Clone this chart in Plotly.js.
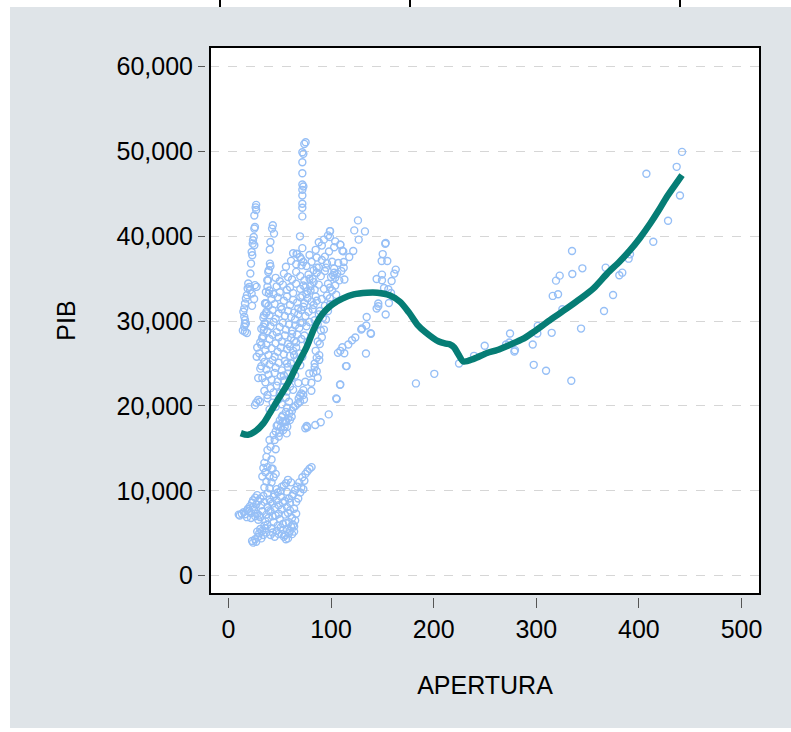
<!DOCTYPE html>
<html>
<head>
<meta charset="utf-8">
<script src="https://cdn.plot.ly/plotly-3.0.1.min.js"></script>
<style>
  html, body { margin:0; padding:0; background:#ffffff; width:791px; height:732px; overflow:hidden; }
  #chart { position:absolute; left:10px; top:7px; width:781px; height:721px; }
  .vbar { position:absolute; top:0; width:2px; height:7px; background:#000; }
</style>
</head>
<body>
<div class="vbar" style="left:219px"></div>
<div class="vbar" style="left:409px"></div>
<div class="vbar" style="left:679px"></div>
<div id="chart"></div>
<script>
// ---- Data (APERTURA, PIB) ----
const bottomCluster = [
  [10,7200],[11,7100],[13,7300],[15,7500],[16,7250],[18,7700],[19,7900],[20,7600],[21,8200],[22,7400],
  [23,8600],[24,8900],[25,7800],[26,9200],[27,8400],[28,9500],[29,8800],[30,7100],[31,9100],[32,8300],
  [33,7600],[34,9400],[35,8700],[18,6900],[22,6800],[26,7000],[29,6600],[24,8100],[28,7300],[31,6900],
  [23,4100],[24,3900],[26,4300],[27,4000],[29,4600],[30,5000],[32,4400],[33,5300],[34,4800],[36,5600],
  [37,5100],[38,6000],[35,5900],[31,5500],[28,5200],
  [36,6400],[37,7200],[38,8100],[39,6800],[40,9000],[41,7600],[42,5600],[43,8500],[44,6300],[45,9600],
  [46,7100],[47,10200],[48,5900],[49,8300],[50,6700],[51,9300],[52,7800],[53,5400],[54,10600],[55,8800],
  [56,6200],[57,9900],[58,7400],[59,5000],[60,8600],[61,11000],[62,6800],[38,9700],[40,10300],[42,11000],
  [44,11600],[46,12000],[41,4800],[43,5100],[45,4600],[47,5300],[49,4900],[51,5700],[53,6100],[55,4800],
  [57,5500],[59,6300],[61,5800],[63,6000],[64,5200],[65,6500],[39,7700],[41,8700],[43,7000],[45,8000],
  [47,8900],[49,7300],[51,10000],[53,8600],[55,7200],[57,8100],[59,9100],[44,9300],[48,9800],[52,10500],
  [56,10900],[58,11300],[60,7700],[62,9400],[35,10400],[37,11100],[40,11700],[36,12200],[38,12800],[42,12600],
  [63,9600],[65,10100],[67,10500],[68,9100],[69,11000],[71,10400],[72,11600],[74,11200],[75,12000],[77,12300],
  [79,12600],[81,12800],[66,8700],[70,9800],[73,10200],[64,7900],[66,7300],[62,4900],[60,5300],[64,5800],
  [58,4400],[56,4300],[54,4600],[52,4900]
];
const transitionCluster = [
  [33,11700],[34,12700],[35,13300],[37,14000],[38,14800],[40,16000],[41,15200],[42,13700],[44,16600],[45,16000],
  [46,17000],[48,17800],[50,18300],[51,17500],[52,18700],[53,18900],[55,18200],[56,19300],[57,19800],
  [46,14900],[49,16400],[43,12600],[49.5,16850],[47,17640],[52.8,18150],[61.6,18740],
  [57.3,17560],[72.9,21290],[69.7,20500],[76.2,17640],[25.8,20100],[27,20400],[29,20700],[30.7,20500],[31,24400],
  [27.5,25800],[32,27200],[29,23300],[28,26900]
];
const diagonalBand = [
  [88.5,25990],[88.5,25430],[86,25670],[84,25000],[84,24570],[86,24100],[87,23330],[82.7,23910],[78.8,23830],[74.9,22850],
  [80.8,22740],[80.8,21800],[73,21870],[71,21480],[69.7,21200],[68.4,20890],[73.6,20770],[67.7,20300],[65.1,19990],[63.2,19840],
  [61.9,19450],[59.3,19130],[58,18540],[56.1,18150],[54.8,17560],[53.4,17170],[59.9,18340],[56.7,16770],[76.8,17490],[74.9,17370],
  [84.6,17760],[89.9,18080],[97.7,19010],[105.5,20810],[109,22540],[115.2,24700],
  [89,27300],[91,28100],[93,29000],[95,30200],[97,31200],[99,32000],[85,26500],[87,27600]
];
const mainCloud = [
  [40,19600],[43,20400],[46,19900],[49,20800],[52,20200],[56,21000],[59,20500],[38,20900],
  [35,21800],[38,21300],[41,22100],[44,21600],[47,22400],[50,21500],[53,22200],[57,21700],[60,22300],[63,21900],
  [33,23300],[36,22800],[39,23700],[42,23100],[45,23900],[48,22900],[51,23500],[54,23000],[58,23800],[61,23200],[65,23600],[68,22700],
  [32,24700],[35,25200],[37,24300],[40,24900],[43,25400],[46,24500],[49,25100],[52,24200],[55,25300],[58,24600],[61,25000],[64,24400],[67,25400],[70,24800],
  [30,26200],[33,25700],[36,26600],[39,26000],[42,26800],[45,25800],[48,26400],[51,26900],[54,26100],[57,26700],[60,25900],[63,26500],[66,26900],[69,26200],[72,25800],
  [31,27500],[34,28200],[37,27200],[40,27900],[43,28400],[46,27400],[49,28100],[52,27600],[55,28300],[58,27300],[61,28000],[64,27700],[67,28400],[71,27900],[74,28300],[77,27500],
  [32,29100],[35,29700],[38,28800],[41,29400],[44,29900],[47,28700],[50,29300],[53,29800],[56,29000],[59,29600],[62,28900],[65,29500],[69,29200],[72,29800],[76,29400],[79,29900],
  [34,30400],[37,31100],[40,30700],[43,31300],[46,30300],[49,30900],[52,31400],[55,30600],[58,31200],[61,30500],[64,31000],[68,30800],[71,31300],[75,30600],[78,31100],[82,31400],
  [36,32100],[39,31800],[42,32600],[45,32000],[48,32800],[51,31700],[54,32400],[57,32900],[60,31900],[63,32500],[67,32200],[70,32800],[74,32100],[77,32700],[81,32300],[85,32900],
  [40,33600],[44,33200],[47,34100],[50,33400],[53,34300],[57,33700],[60,34000],[63,33300],[66,34400],[70,33800],[73,34200],[77,33500],[80,34100],[84,33700],[88,34300],
  [46,35100],[50,34700],[54,35600],[58,35200],[62,34900],[66,35800],[70,35300],[74,34800],[78,35500],[82,35000],[86,35700],[90,35300],[94,35900],
  [56,36400],[61,37100],[66,36700],[71,37300],[76,36500],[81,37000],[86,36300],[91,37200],[96,36800],
  [63,38000],[67,37900],[72,38600],[79,37800],[85,38400],[91,38900],[94,37600],[98,38200],[103,38700],
  [88,39300],[93,39600],[97,40100],[99,40600],[104,39400],[109,39000],[111,38300],
  [60,27000],[62,28500],[65,30200],[68,31500],[72,33000],[75,34000],[79,35000],[83,36000],[86,37500],[70,29800],
  [73,31700],[76,33200],[80,33600],[83,34600],[88,36300],[66,27500],[64,26000],[57,25000],[54,23600],
  [101,37000],[103,36200],[106,35600],[108,34800],[104,34200],[100,35200],[97,34400],[95,36300],[110,35900],[113,34900],
  [101,33600],[105,33100],[96,33000],[93,33800],[91,32600],[94,31800],[89,31200],[92,30400],[87,29600],[90,28900],
  [83,31900],[86,32400],[88,30800],[84,30100]
];
const columnLeft = [
  [27,43700],[26.5,43400],[27,43100],[25.2,42450],[25.8,41090],[25.2,40900],[24.6,39920],[23.9,39520],[23.6,39130],[25.2,38940],
  [22.6,38150],[23.2,37760],[22,36780],[21.3,35610],[19.3,34430],[18.7,33850],[20.3,34040],[18,33060],[17,32670],[16.1,32080],
  [15.4,31500],[14.5,31100],[15.4,30520],[16.1,30130],[17,29730],[15.4,29340],[16.1,28750],[21,33650],[22.6,33260],[25.8,34240],
  [27.4,34040],[14,28900],[16,29700],[18,28600],[23,31800],[25,32600]
];
const columnMid = [
  [43.2,41290],[42.5,40900],[44.4,40310],[40.9,39330],[40.3,38430],[40.9,36470],[39.3,36000],[38.7,34820],[38,34040],[39.3,33260],
  [37,32080],[36.7,30910],[36,29730],[34.4,28950],[32.7,27970],[40.4,36770],[38.8,35790],[37.8,34810],[36.5,33440],[35.6,32070],
  [34.6,30700],[34,29330],[33.3,28150]
];
const columnTall = [
  [75.2,51080],[73.9,50880],[72,49900],[73,49710],[72,48720],[72,47430],[72,46100],[73,45860],[72,45470],[72,44810],
  [72,43830],[72,43360],[72,42340],[69.7,39990],[66.4,37940],[69.7,37550],[72.9,36960],[71.3,36570]
];
const midRight = [
  [98.9,40610],[98.9,39900],[126.2,41870],[122.6,40690],[133,40570],[126.9,39600],[109,39010],[111.9,38220],[121.6,38260],[117.7,37550],
  [107,36850],[112.3,36960],[112.3,36300],[102,35400],[104,35100],[103,35700],[98.9,33950],[98.9,32690],[153.2,39200],[150.3,37900],
  [149.3,37080],[154.8,37080],[163,36070],[161.6,35600],[159,34730],[144.4,34960],[149.6,35480],[149.6,34810],[151.6,33900],[155.8,33750],
  [158.4,33320],[156.4,32140],[153.2,30780],[144.4,31480],[146,31750],[146,32070],[134.7,30490],[130.1,29130],[134.3,29480],[138.6,28580],
  [123.6,28070],[120.4,27750],[116.8,27250],[111,26930],[109,26500],[106.7,26260],[112.9,26220],[134,26190],[114.5,24700],[108.7,22500],
  [105,20900],[129.4,29010],[138.9,28500],[152.8,39120]
];
const highOpenness = [
  [182.7,22660],[200.6,23790],[224.7,25010],[239.3,25910],[249.7,27090],[274.4,28540],[270.5,27250],[279.2,26580],[278.6,26420],[273.7,27480],
  [296.5,27250],[297.5,24850],[301,28540],[301.4,29440],[309.5,24150],[315,28620],[316,32970],[321.2,33160],[319.2,34770],[322.8,35360],
  [325.4,31400],[334.8,38260],[335.1,35550],[334.1,22970],[343.6,29120],[344.9,36220],[366,31200],[367.6,36300],[374.8,33080],[380.9,35400],
  [383.8,35710],[390,37360],[391.3,37870],[414,39360],[428.4,41830],[407.3,47360],[436.8,48180],[442,49940],[440,44810]
];
// Kernel fit line
const fitX = [12,19,26,34,40,48,57,66,76,83,89,95,101,111,122,135,145,157,167,176,184,192,205,212,216,220,224,229,239,252,262,274,287,297,313,328,343,356,369,381,391,401,411,419,427,435,442];
const fitY = [16800,16600,17000,17950,19100,20700,22450,24600,26900,29000,30400,31300,31950,32650,33150,33350,33350,33050,32300,31000,29600,28700,27600,27350,27250,26900,26100,25250,25550,26250,26600,27200,27900,28700,30100,31350,32650,33900,35600,37000,38300,39800,41500,43000,44600,46000,47200];
// Axis ticks
const xTicks = [0,100,200,300,400,500];
const yTicks = [0,10000,20000,30000,40000,50000,60000];
const yTickText = ['0','10,000','20,000','30,000','40,000','50,000','60,000'];

const groups = [bottomCluster, transitionCluster, diagonalBand, mainCloud, columnLeft, columnMid, columnTall, midRight, highOpenness];
const allPts = [].concat(...groups);

const scatter = {
  type:'scatter', mode:'markers',
  x: allPts.map(p=>p[0]), y: allPts.map(p=>p[1]),
  marker:{symbol:'circle-open', size:7, color:'#96bff6', line:{width:1.4, color:'#96bff6'}},
  hoverinfo:'skip', cliponaxis:true
};
const fit = {
  type:'scatter', mode:'lines', x: fitX, y: fitY,
  line:{color:'#067d75', width:6.5, shape:'spline', smoothing:0.8},
  hoverinfo:'skip'
};

const font = 'Liberation Sans, Arial, sans-serif';
const layout = {
  width:781, height:721,
  paper_bgcolor:'#dfe4e8', plot_bgcolor:'#ffffff',
  margin:{l:195, r:31, t:40, b:131, pad:0},
  showlegend:false,
  font:{family:font, size:25, color:'#000'},
  xaxis:{
    range:[-18,518], domain:[0.009,1], anchor:'free', position:0,
    tickvals:xTicks, ticktext:xTicks.map(String),
    ticks:'outside', ticklen:10, tickwidth:1, tickcolor:'#555',
    showgrid:false, zeroline:false, showline:false,
    tickfont:{family:font, size:25, color:'#000'},
    title:{text:'APERTURA', font:{family:font, size:25, color:'#000'}, standoff:34}
  },
  yaxis:{
    range:[-2150,62300], domain:[0.0055,1], anchor:'free', position:0,
    tickvals:yTicks, ticktext:yTickText,
    ticks:'outside', ticklen:7, tickwidth:1, tickcolor:'#555',
    showgrid:true, gridcolor:'#d6d6d6', gridwidth:1, griddash:'dash',
    zeroline:false, showline:false,
    tickfont:{family:font, size:25, color:'#000'},
    title:{text:'PIB', font:{family:font, size:25, color:'#000'}, standoff:32}
  },
  shapes:[{type:'rect', xref:'x domain', yref:'y domain', x0:0, x1:1, y0:0, y1:1,
           line:{color:'#000', width:2}, layer:'above'}]
};

Plotly.newPlot('chart', [scatter, fit], layout, {displayModeBar:false, staticPlot:true});
</script>
</body>
</html>
